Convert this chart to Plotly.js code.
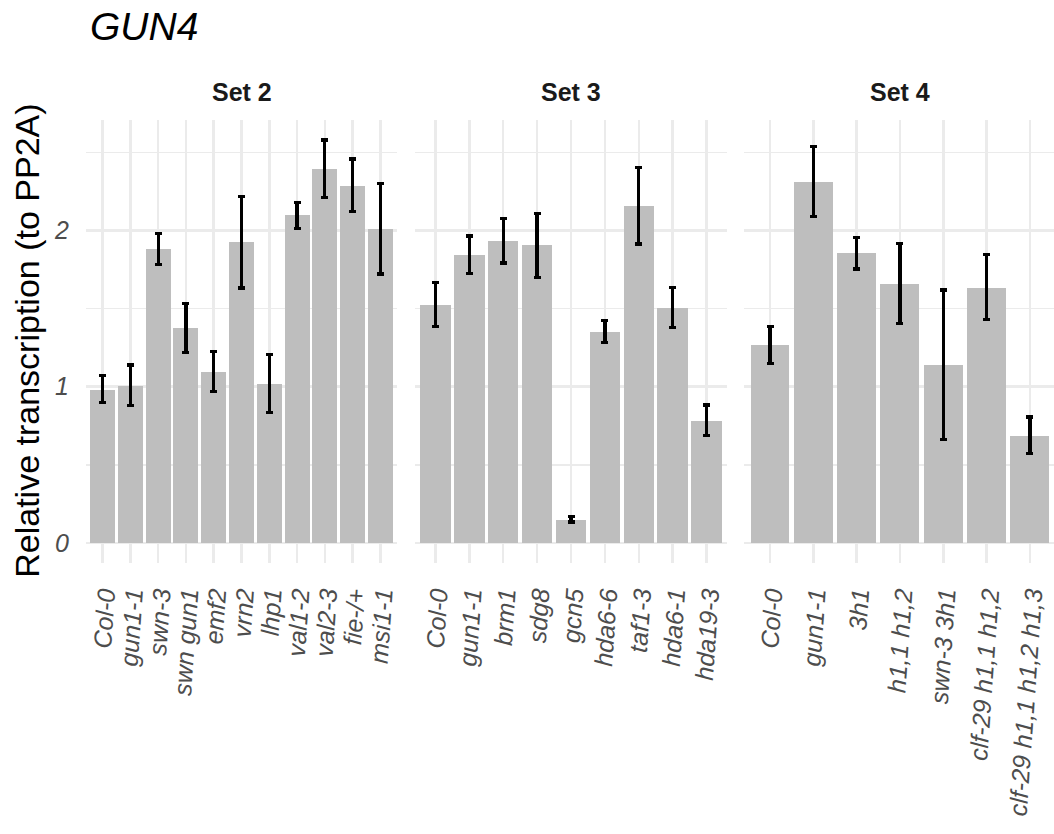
<!DOCTYPE html>
<html><head><meta charset="utf-8">
<script src="https://cdn.plot.ly/plotly-3.0.1.min.js"></script>
<style>html,body{margin:0;padding:0;background:#fff;}</style></head>
<body><div id="chart" style="width:1054px;height:834px;"></div>
<script>
// ---- Data ----
const set2Labels = ["Col-0","gun1-1","swn-3","swn gun1","emf2","vrn2","lhp1","val1-2","val2-3","fie-/+","msi1-1"];
const set2Values = [0.979,1.004,1.881,1.374,1.096,1.923,1.015,2.096,2.391,2.287,2.011];
const set2Upper  = [1.070,1.138,1.981,1.534,1.226,2.217,1.204,2.179,2.579,2.457,2.302];
const set2Lower  = [0.898,0.877,1.783,1.219,0.970,1.632,0.834,2.013,2.213,2.123,1.721];

const set3Labels = ["Col-0","gun1-1","brm1","sdg8","gcn5","hda6-6","taf1-3","hda6-1","hda19-3"];
const set3Values = [1.523,1.840,1.932,1.904,0.149,1.349,2.155,1.506,0.781];
const set3Upper  = [1.668,1.964,2.079,2.109,0.170,1.421,2.402,1.634,0.883];
const set3Lower  = [1.387,1.723,1.791,1.700,0.134,1.283,1.913,1.381,0.687];

const set4Labels = ["Col-0","gun1-1","3h1","h1,1 h1,2","swn-3 3h1","clf-29 h1,1 h1,2","clf-29 h1,1 h1,2 h1,3"];
const set4Values = [1.264,2.309,1.855,1.655,1.136,1.634,0.687];
const set4Upper  = [1.383,2.536,1.957,1.915,1.619,1.847,0.806];
const set4Lower  = [1.149,2.087,1.753,1.402,0.660,1.432,0.572];

const facetNames = ["Set 2","Set 3","Set 4"];
const chartTitle = "GUN4";
const yTitle = "Relative transcription (to PP2A)";

// ---- Layout helpers ----
const W = 1054, H = 834;
const plotTop = 120, plotBottom = 563.5;
const py = p => (plotBottom - p) / (plotBottom - plotTop);
const px = p => p / W;
const FONT = "Liberation Sans, Arial, Helvetica, sans-serif";

function barTrace(labels, vals, up, lo, xa) {
  return {
    type: "bar", x: labels, y: vals, xaxis: xa, yaxis: "y",
    width: 0.9,
    marker: {color: "#BEBEBE", line: {width: 0}},
    error_y: {
      type: "data", symmetric: false,
      array: up.map((u, i) => u - vals[i]),
      arrayminus: lo.map((l, i) => vals[i] - l),
      color: "#000000", thickness: 3.2, width: 3.5
    },
    hoverinfo: "skip", showlegend: false
  };
}

const traces = [
  barTrace(set2Labels, set2Values, set2Upper, set2Lower, "x"),
  barTrace(set3Labels, set3Values, set3Upper, set3Lower, "x2"),
  barTrace(set4Labels, set4Values, set4Upper, set4Lower, "x3")
];

function xAxis(domain, labels, extraEnd) {
  const n = labels.length;
  return {
    domain: domain, type: "category",
    range: [-0.6, n - 0.4 - (extraEnd || 0)],
    tickmode: "array", tickvals: labels, ticktext: labels,
    showgrid: true, gridcolor: "#EBEBEB", gridwidth: 2.5,
    zeroline: false, showline: false, ticks: "",
    tickangle: -86, ticklabelstandoff: 12,
    tickfont: {family: FONT, size: 25, color: "#4D4D4D", style: "italic"},
    anchor: "y", fixedrange: true
  };
}

const layout = {
  width: W, height: H,
  margin: {l: 0, r: 0, t: plotTop, b: H - plotBottom, pad: 0},
  paper_bgcolor: "#FFFFFF", plot_bgcolor: "#FFFFFF",
  font: {family: FONT},
  bargap: 0,
  xaxis: xAxis([px(86), px(397)], set2Labels),
  xaxis2: xAxis([px(415), px(727)], set3Labels),
  xaxis3: xAxis([px(744), 1], set4Labels, 0.045),
  yaxis: {
    range: [-0.129, 2.707], domain: [0, 1], anchor: "x",
    dtick: 1, tick0: 0,
    showgrid: true, gridcolor: "#EBEBEB", gridwidth: 2.5,
    minor: {dtick: 0.5, tick0: 0, showgrid: true, gridcolor: "#EBEBEB", gridwidth: 1.5},
    zeroline: false, showline: false, ticks: "",
    ticklabelstandoff: 16,
    tickfont: {family: FONT, size: 25, color: "#4D4D4D", style: "italic"},
    fixedrange: true
  },
  annotations: [
    {text: chartTitle, xref: "paper", yref: "paper", x: px(88), y: py(26),
     xanchor: "left", yanchor: "middle", showarrow: false,
     font: {family: FONT, size: 39, color: "#000000", style: "italic"}},
    {text: yTitle, xref: "paper", yref: "paper", x: px(27), y: py(341),
     xanchor: "center", yanchor: "middle", showarrow: false, textangle: -90,
     font: {family: FONT, size: 34, color: "#000000"}},
    {text: "<b>" + facetNames[0] + "</b>", xref: "paper", yref: "paper", x: px(241.5), y: py(91.5),
     xanchor: "center", yanchor: "middle", showarrow: false,
     font: {family: FONT, size: 25, color: "#1A1A1A"}},
    {text: "<b>" + facetNames[1] + "</b>", xref: "paper", yref: "paper", x: px(571), y: py(91.5),
     xanchor: "center", yanchor: "middle", showarrow: false,
     font: {family: FONT, size: 25, color: "#1A1A1A"}},
    {text: "<b>" + facetNames[2] + "</b>", xref: "paper", yref: "paper", x: px(900), y: py(91.5),
     xanchor: "center", yanchor: "middle", showarrow: false,
     font: {family: FONT, size: 25, color: "#1A1A1A"}}
  ]
};

Plotly.newPlot("chart", traces, layout, {displayModeBar: false, staticPlot: true});
</script>
</body></html>
